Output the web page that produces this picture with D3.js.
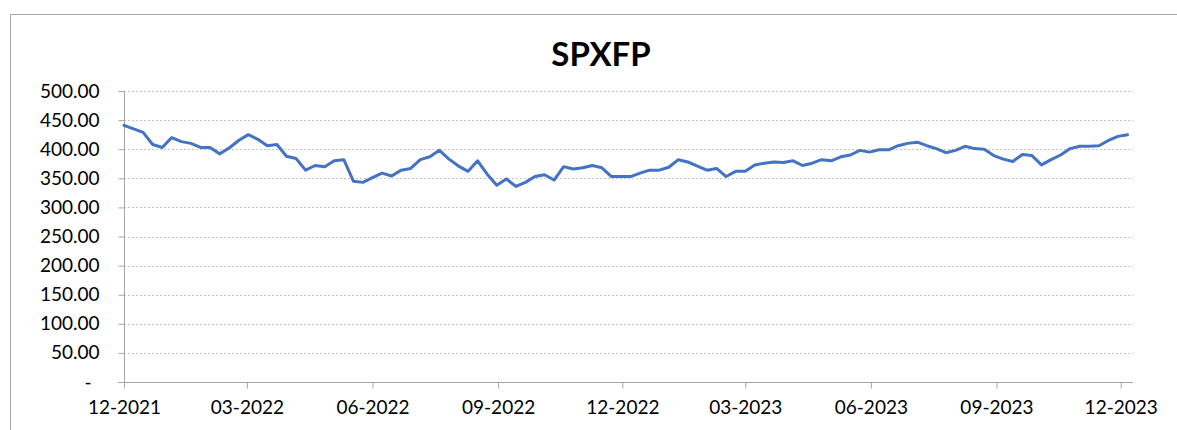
<!DOCTYPE html>
<html>
  <head>
    <meta charset="utf-8">
    <script src="https://d3js.org/d3.v7.min.js"></script>
    <style>
      body { margin: 0; background: #fff; }
      text { font-family: Lato, "Open Sans", sans-serif; fill: #000; }
      .title { font-weight: bold; font-size: 33px; }
      .tick-label { font-size: 19px; }
    </style>
  </head>
<body>
  <script type="text/javascript">
    /*
      Chart data: weekly closes, first week starting 12-2021
    */
    var title = "SPXFP";
    var startDate = "2021-12-01";
    var values = [
      441, 435, 429, 408, 403, 420, 413, 410, 403, 403,
      392, 402, 415, 425, 417, 406, 408, 388, 384, 364,
      372, 370, 380, 382, 345, 343, 351, 359, 354, 364,
      367, 382, 387, 398, 383, 371, 362, 380, 357, 338,
      349, 336, 343, 353, 356, 347, 370, 366, 368, 372,
      368, 353, 353, 353, 359, 364, 364, 369, 382, 378,
      371, 364, 367, 353, 362, 362, 373, 376, 378, 377,
      380, 372, 376, 382, 380, 387, 390, 398, 395, 399,
      399, 406, 410, 412, 406, 401, 394, 398, 405, 401,
      400, 389, 383, 379, 391, 389, 373, 382, 390, 401,
      405, 405, 406, 415, 422, 425
    ];
    var xTickLabels = ["12-2021", "03-2022", "06-2022", "09-2022", "12-2022",
                       "03-2023", "06-2023", "09-2023", "12-2023"];
    var yTicks = [0, 50, 100, 150, 200, 250, 300, 350, 400, 450, 500];

    var width = 1177, height = 430;
    var plotLeft = 124, plotRight = 1133, plotTop = 91, plotBottom = 382;

    var parse = d3.timeParse("%Y-%m-%d");
    var parseTick = d3.timeParse("%m-%Y");
    var t0 = parse(startDate);
    var data = values.map(function(v, i) {
      return { date: d3.timeDay.offset(t0, 7 * i), value: v };
    });
    var tickDates = xTickLabels.map(function(s) { return parseTick(s); });

    var svg = d3.select("body")
        .append("svg")
        .attr("width", width)
        .attr("height", height);

    // outer chart border
    svg.append("path")
        .attr("d", "M10.5," + height + "V14.5H" + width)
        .attr("fill", "none")
        .attr("stroke", "#a6a6a6")
        .attr("stroke-width", 1);

    svg.append("text")
        .attr("class", "title")
        .attr("x", 601)
        .attr("y", 66)
        .attr("text-anchor", "middle")
        .text(title);

    var x = d3.scaleTime()
        .domain([t0, d3.timeDay.offset(tickDates[tickDates.length - 1], 9)])
        .range([plotLeft, plotRight]);
    var y = d3.scaleLinear()
        .domain([0, 500])
        .range([plotBottom, plotTop]);

    // gridlines
    svg.append("g")
        .selectAll("line")
        .data(yTicks.filter(function(d) { return d > 0; }))
        .enter().append("line")
        .attr("x1", plotLeft)
        .attr("x2", plotRight)
        .attr("y1", function(d) { return Math.round(y(d)) + 0.5; })
        .attr("y2", function(d) { return Math.round(y(d)) + 0.5; })
        .attr("stroke", "#c6c6c6")
        .attr("stroke-dasharray", "2,2");

    // y axis
    var yAxis = d3.axisLeft(y)
        .tickValues(yTicks)
        .tickSize(6)
        .tickPadding(19)
        .tickFormat(function(d) { return d === 0 ? "-" : d3.format(".2f")(d); });
    var gy = svg.append("g")
        .attr("transform", "translate(" + (plotLeft + 0.5) + ",0)")
        .call(yAxis);
    gy.select(".domain").attr("stroke", "#a6a6a6").attr("d", "M0," + plotTop + "V" + plotBottom);
    gy.selectAll(".tick line").attr("stroke", "#a6a6a6");
    gy.selectAll(".tick text").attr("class", "tick-label").attr("font-size", null)
        .attr("font-family", null).attr("dx", function(d) { return d === 0 ? "-8px" : null; });

    // x axis
    var xAxis = d3.axisBottom(x)
        .tickValues(tickDates)
        .tickSize(6)
        .tickPadding(12)
        .tickFormat(d3.timeFormat("%m-%Y"));
    var gx = svg.append("g")
        .attr("transform", "translate(0," + (plotBottom + 0.5) + ")")
        .call(xAxis);
    gx.select(".domain").attr("stroke", "#a6a6a6").attr("d", "M" + (plotLeft - 6) + ",0H" + plotRight);
    gx.selectAll(".tick line").attr("stroke", "#a6a6a6");
    gx.selectAll(".tick text").attr("class", "tick-label").attr("font-size", null)
        .attr("font-family", null);

    // series line
    var line = d3.line()
        .x(function(d) { return x(d.date); })
        .y(function(d) { return y(d.value); });
    svg.append("path")
        .datum(data)
        .attr("fill", "none")
        .attr("stroke", "#4472c4")
        .attr("stroke-width", 3)
        .attr("stroke-linejoin", "round")
        .attr("stroke-linecap", "round")
        .attr("d", line);
  </script>
</body>
</html>
